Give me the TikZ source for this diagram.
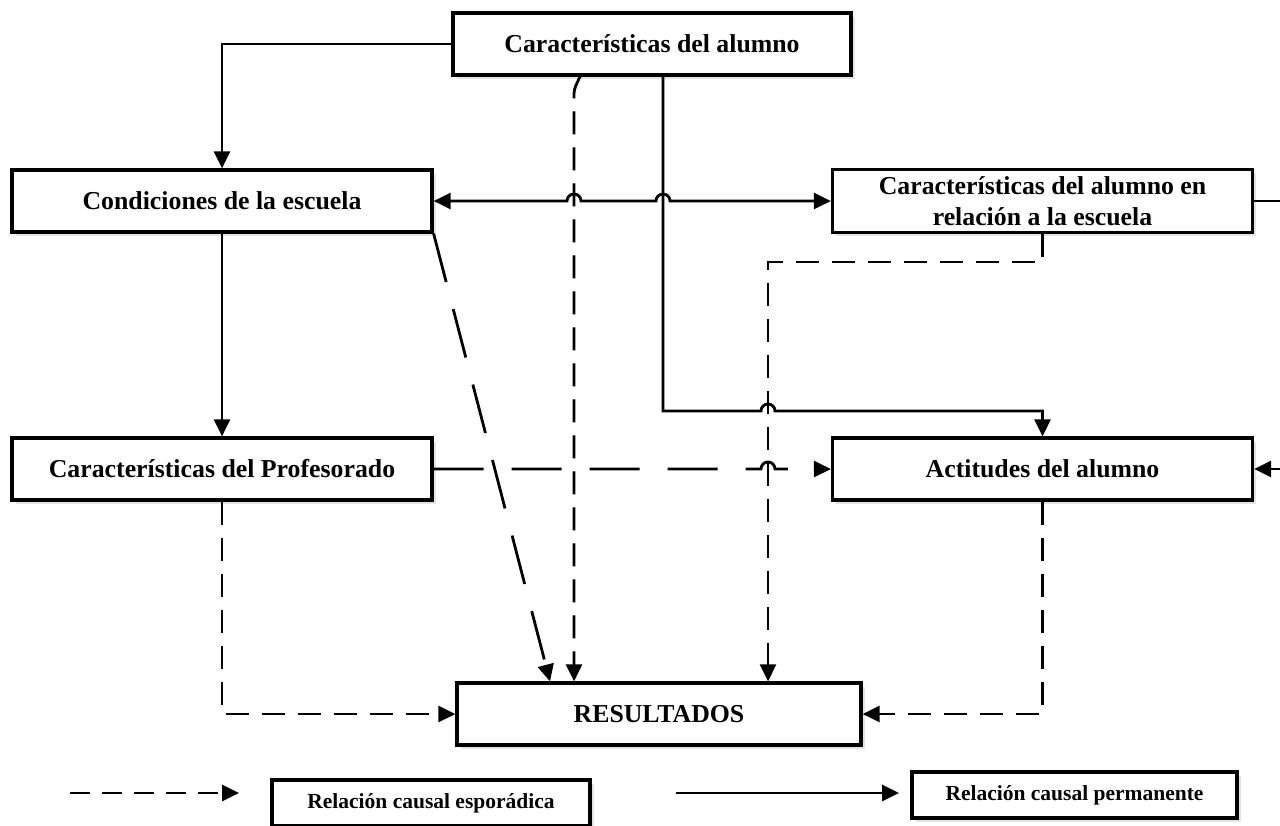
\documentclass[tikz,border=0pt]{standalone}
\usepackage{fontspec}
\setmainfont{Liberation Serif}
\usetikzlibrary{arrows.meta, positioning, shadows, calc}

\tikzset{
    >={Triangle[length=8.5pt,width=8pt]},
    box/.style={draw, line width=1.6pt, fill=white, minimum width=210pt, minimum height=31pt,
        align=center, font=\fontsize{12.9}{15.5}\selectfont\bfseries,
        drop shadow={shadow xshift=1.8pt, shadow yshift=-1.8pt, fill=black!22}},
    legbox/.style={box, minimum height=23pt, font=\fontsize{10.75}{13}\selectfont\bfseries},
    conn/.style={line width=1.4pt, ->},
    dsh/.style={conn, dash pattern=on 11.5pt off 6.5pt},
    ldsh/.style={conn, dash pattern=on 25pt off 14pt}
}

\begin{document}
\begin{tikzpicture}[x=0.5pt, y=-0.5pt]

\useasboundingbox (0,0) rectangle (1280,825);
\clip (0,0) rectangle (1280,825);

% Boxes
\node[box, minimum width=199pt] (alumno) at (652,44) {Características del alumno};
\node[box] (cond) at (222,201) {Condiciones de la escuela};
\node[box] (rel) at (1042.5,201) {Características del alumno en\\relación a la escuela};
\node[box] (prof) at (222,469) {Características del Profesorado};
\node[box] (act) at (1042.5,469) {Actitudes del alumno};
\node[box, minimum width=202pt] (res) at (659,714) {RESULTADOS};

% Columns and rows used by the connectors
\coordinate (c1) at (574,0);
\coordinate (c2) at (663,0);
\coordinate (c3) at (768,0);
\coordinate (r1) at (0,262);
\coordinate (r2) at (0,411);

% Permanent relations
\draw[conn] (alumno.west) -| (cond.north);
\draw[conn] (cond.south) -- (prof.north);
\draw[conn] (alumno.south -| c2) -- (c2 |- r2) -- ($(c3 |- r2)+(-7,0)$)
    arc[start angle=180, end angle=360, radius=7] -| (act.north);
\draw[conn, <->] (cond.east) -- ($(c1 |- cond.east)+(-7,0)$)
    arc[start angle=180, end angle=360, radius=7] -- ($(c2 |- cond.east)+(-7,0)$)
    arc[start angle=180, end angle=360, radius=7] -- (rel.west);
\draw[conn] (rel.east) -- ++(80,0) |- (act.east);

% Sporadic relations
\draw[dsh, rounded corners=2] ($(alumno.south)+(-72,0)$) -- ($(c1 |- alumno.south)+(0,13)$)
    -- (res.north -| c1);
\draw[dsh] (rel.south) -- (rel.south |- r1) -| (res.north -| c3);
\draw[ldsh] (cond.south east) -- ($(res.north)+(-109,0)$);
\draw[ldsh] (prof.east) -- ($(c3 |- prof.east)+(-7,0)$)
    arc[start angle=180, end angle=360, radius=7] -- (act.west);
\draw[dsh] (prof.south) |- (res.west);
\draw[dsh] (act.south) |- (res.east);

% Legend
\coordinate (ld1) at (70,793);
\coordinate (ld2) at (239,793);
\coordinate (ls1) at (676,793);
\coordinate (ls2) at (899,793);
\draw[dsh, dash pattern=on 10pt off 6pt] (ld1) -- (ld2);
\node[legbox, minimum width=159pt] (legesp) at (431,803) {Relación causal esporádica};
\draw[conn] (ls1) -- (ls2);
\node[legbox, minimum width=162.5pt] (legper) at (1074.5,795) {Relación causal permanente};

\end{tikzpicture}
\end{document}
